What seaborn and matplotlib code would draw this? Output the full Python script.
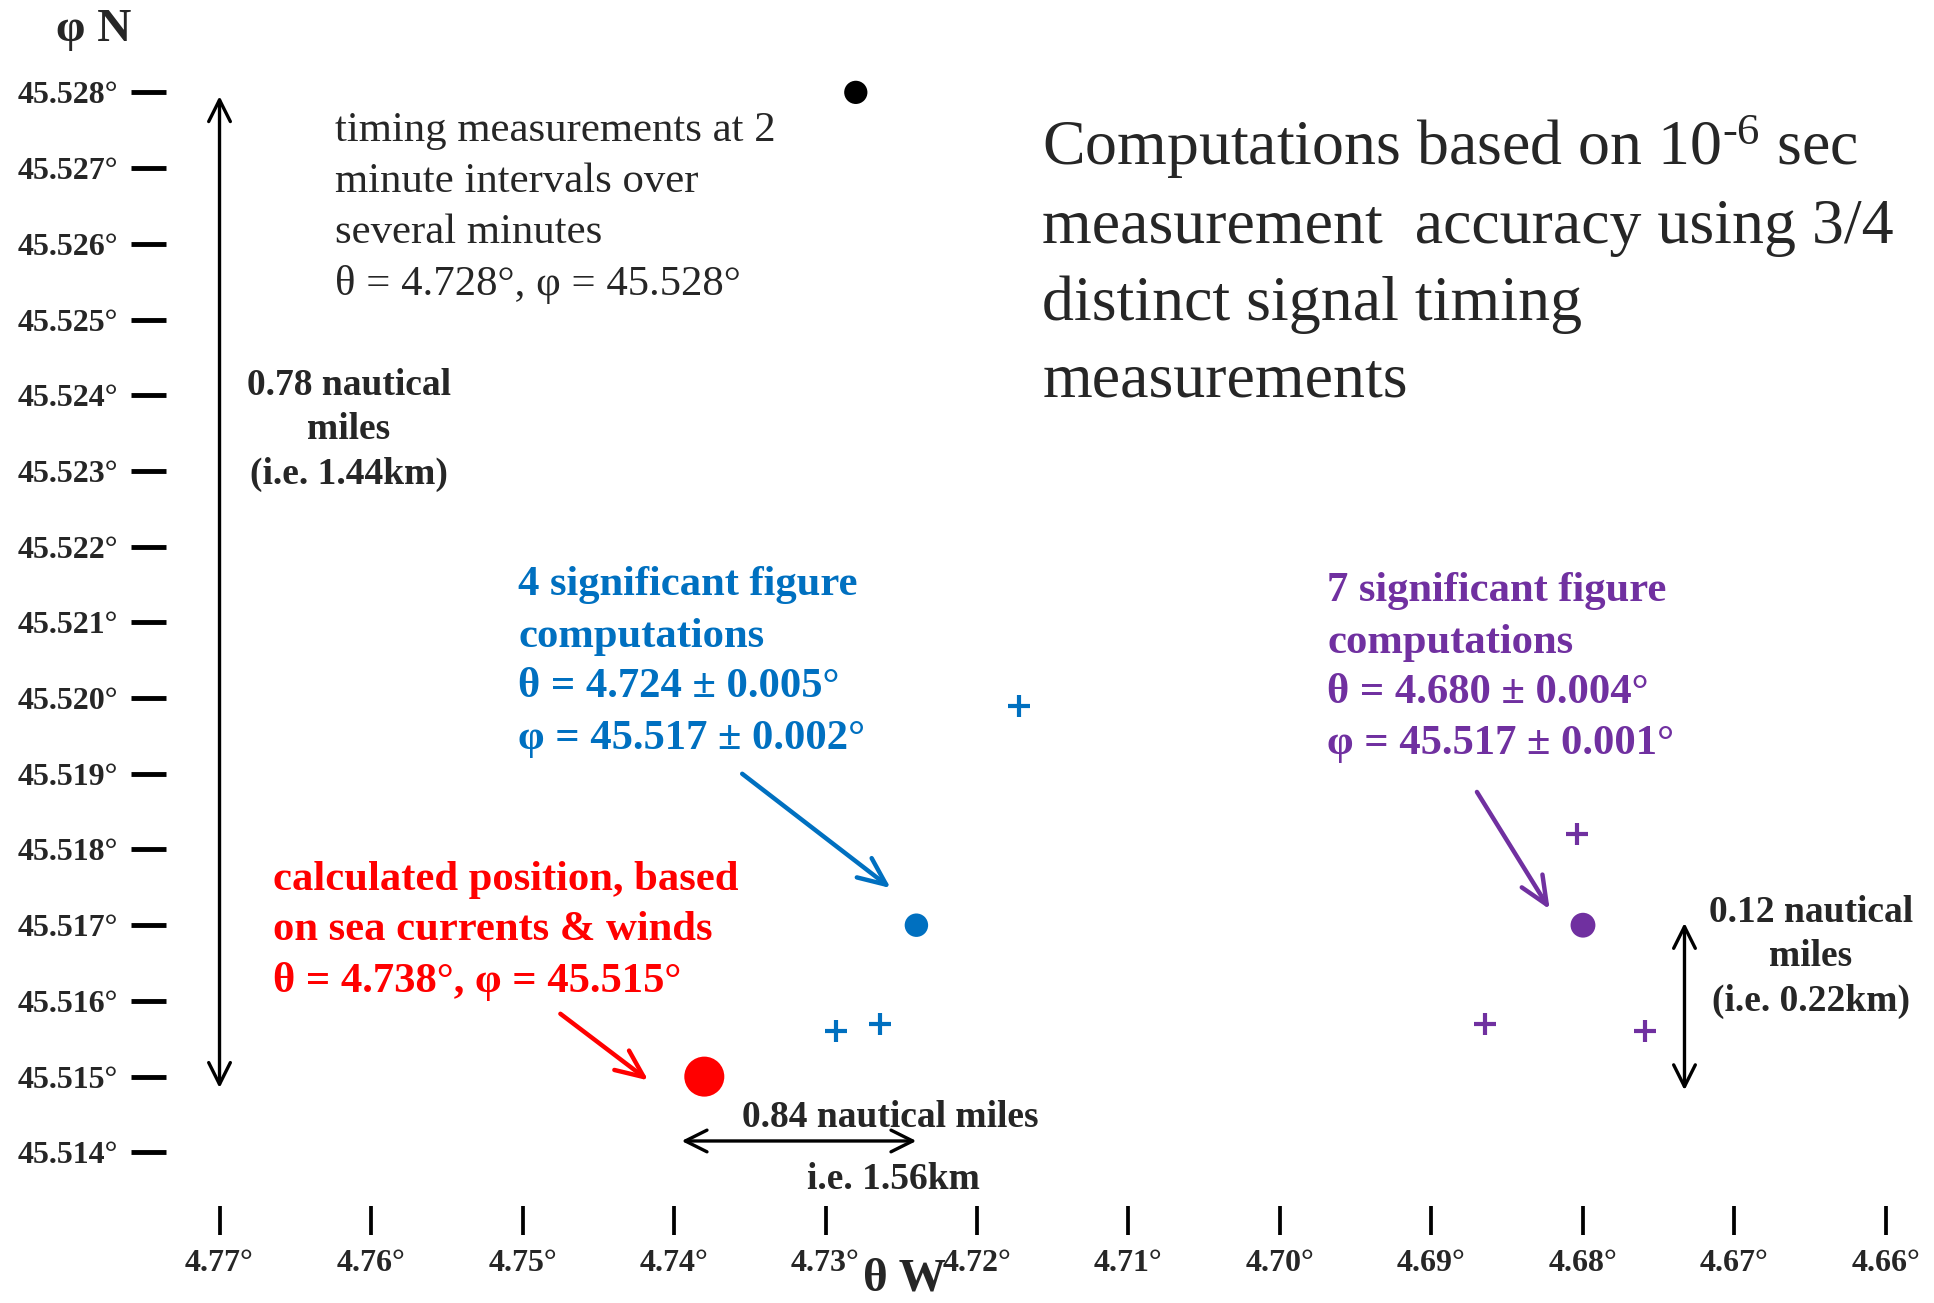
"""
Position fix plot: timing-based computations vs. dead-reckoning estimate.
Longitude (theta W) runs right-to-left, latitude (phi N) bottom-to-top.
"""

import matplotlib

matplotlib.use("Agg")
import matplotlib.pyplot as plt
import pandas as pd
import seaborn as sns

LON_TICKS = [4.77, 4.76, 4.75, 4.74, 4.73, 4.72, 4.71, 4.70, 4.69, 4.68, 4.67, 4.66]
LAT_TICKS = [45.528, 45.527, 45.526, 45.525, 45.524, 45.523, 45.522,
             45.521, 45.520, 45.519, 45.518, 45.517, 45.516, 45.515, 45.514]

# computed / estimated positions
FIX_NAMES = ["timing", "sig4", "currents", "sig7"]
FIX_LON = [4.728, 4.724, 4.738, 4.680]
FIX_LAT = [45.528, 45.517, 45.515, 45.517]

# individual 3/4-signal solutions
SIG4_LON = [4.7172, 4.7293, 4.7264]
SIG4_LAT = [45.5199, 45.5156, 45.5157]
SIG7_LON = [4.6804, 4.6865, 4.6759]
SIG7_LAT = [45.5182, 45.5157, 45.5156]

BLUE = "#0070C0"
PURPLE = "#7030A0"
RED = "#FF0000"
SERIF = "Liberation Serif"

SHOWN_W, SHOWN_H = 1568, 1056


def pos(px, py):
    # reference layout measured on a 1568x1056 view
    return px / SHOWN_W, 1 - py / SHOWN_H


def lines(ax, px, baselines, texts, **kw):
    for py, t in zip(baselines, texts):
        x, y = pos(px, py)
        ax.text(x, y, t, transform=ax.transAxes, va="baseline", **kw)


def main():
    sns.set_theme(style="white")
    plt.rcParams["font.family"] = [SERIF, "DejaVu Serif"]
    plt.rcParams["mathtext.fontset"] = "custom"
    plt.rcParams["mathtext.rm"] = SERIF
    plt.rcParams["mathtext.it"] = SERIF + ":italic"
    plt.rcParams["mathtext.bf"] = SERIF + ":bold"

    fig = plt.figure(figsize=(19.34, 13.03), dpi=100)
    ax = fig.add_axes([0, 0, 1, 1])

    fixes = pd.DataFrame({"name": FIX_NAMES, "lon": FIX_LON, "lat": FIX_LAT})
    sns.scatterplot(
        data=fixes, x="lon", y="lat", hue="name", size="name",
        palette={"timing": "black", "sig4": BLUE, "currents": RED, "sig7": PURPLE},
        sizes={"timing": 280, "sig4": 285, "currents": 830, "sig7": 320},
        linewidth=0, legend=False, ax=ax, zorder=3,
    )
    sns.scatterplot(x=SIG4_LON, y=SIG4_LAT, marker="+", s=240, color=BLUE,
                    linewidth=3, ax=ax, zorder=3)
    sns.scatterplot(x=SIG7_LON, y=SIG7_LAT, marker="+", s=240, color=PURPLE,
                    linewidth=3, ax=ax, zorder=3)

    ax.set_xlim(4.78449, 4.65683)
    ax.set_ylim(45.51201, 45.52922)
    ax.set_xlabel("")
    ax.set_ylabel("")

    for side in ["top", "right", "left", "bottom"]:
        ax.spines[side].set_color("none")
    ax.spines["left"].set_position(("data", 4.7735))
    ax.spines["bottom"].set_position(("data", 45.51291))

    ax.set_xticks(LON_TICKS, [f"{v:.2f}°" for v in LON_TICKS], fontweight="bold")
    ax.set_yticks(LAT_TICKS, [f"{v:.3f}°" for v in LAT_TICKS], fontweight="bold")
    ax.tick_params(axis="x", direction="in", length=21, width=2.7, pad=10,
                   labelsize=23, color="black", bottom=True)
    ax.tick_params(axis="y", direction="out", length=25, width=3.5, pad=10,
                   labelsize=23, color="black", left=True)

    # range arrows
    dbl = dict(arrowstyle="<->,head_length=0.6,head_width=0.3", lw=2.4,
               color="black", shrinkA=0, shrinkB=0, mutation_scale=26)
    ax.annotate("", xy=(4.77, 45.51485), xytext=(4.77, 45.52795), arrowprops=dbl)
    ax.annotate("", xy=(4.7240, 45.51415), xytext=(4.7395, 45.51415), arrowprops=dbl)
    ax.annotate("", xy=(4.6733, 45.51482), xytext=(4.6733, 45.51703), arrowprops=dbl)

    # pointer arrows to the fixes
    ptr = dict(arrowstyle="->,head_length=0.8,head_width=0.35", lw=3.2,
               shrinkA=0, shrinkB=0, mutation_scale=25)
    ax.annotate("", xy=(4.7257, 45.51749), xytext=(4.7355, 45.51900),
                arrowprops={**ptr, "color": BLUE})
    ax.annotate("", xy=(4.6822, 45.51721), xytext=(4.6870, 45.51876),
                arrowprops={**ptr, "color": PURPLE})
    ax.annotate("", xy=(4.7417, 45.51495), xytext=(4.7475, 45.51583),
                arrowprops={**ptr, "color": RED})

    # text blocks
    lines(ax, 45, [33], ["φ N"], fontsize=34, fontweight="bold")
    x, y = pos(733, 1046)
    ax.text(x, y, "θ W", transform=ax.transAxes, va="baseline", ha="center",
            fontsize=34, fontweight="bold")

    lines(ax, 272, [114, 156, 197, 239],
          ["timing measurements at 2", "minute intervals over",
           "several minutes", "θ = 4.728°, φ = 45.528°"], fontsize=30.8)

    lines(ax, 845, [134, 197, 259, 321],
          [r"Computations based on 10$^{\text{-6}}$ sec",
           "measurement  accuracy using 3/4",
           "distinct signal timing", "measurements"], fontsize=46)

    lines(ax, 283, [320, 356, 392],
          ["0.78 nautical", "miles", "(i.e. 1.44km)"],
          fontsize=27, fontweight="bold", ha="center")

    lines(ax, 420, [482, 524, 565, 607],
          ["4 significant figure", "computations",
           "θ = 4.724 ± 0.005°", "φ = 45.517 ± 0.002°"],
          fontsize=30.7, fontweight="bold", color=BLUE)

    lines(ax, 1076, [487, 529, 570, 611],
          ["7 significant figure", "computations",
           "θ = 4.680 ± 0.004°", "φ = 45.517 ± 0.001°"],
          fontsize=30.7, fontweight="bold", color=PURPLE)

    lines(ax, 221, [721, 762, 804],
          ["calculated position, based", "on sea currents & winds",
           "θ = 4.738°, φ = 45.515°"],
          fontsize=30.7, fontweight="bold", color=RED)

    lines(ax, 722, [913], ["0.84 nautical miles"], fontsize=27,
          fontweight="bold", ha="center")
    lines(ax, 724, [964], ["i.e. 1.56km"], fontsize=27,
          fontweight="bold", ha="center")

    lines(ax, 1468, [747, 783, 819],
          ["0.12 nautical", "miles", "(i.e. 0.22km)"],
          fontsize=27, fontweight="bold", ha="center")

    fig.savefig("out.png", dpi=100, facecolor="white")
    plt.close(fig)


if __name__ == "__main__":
    main()
